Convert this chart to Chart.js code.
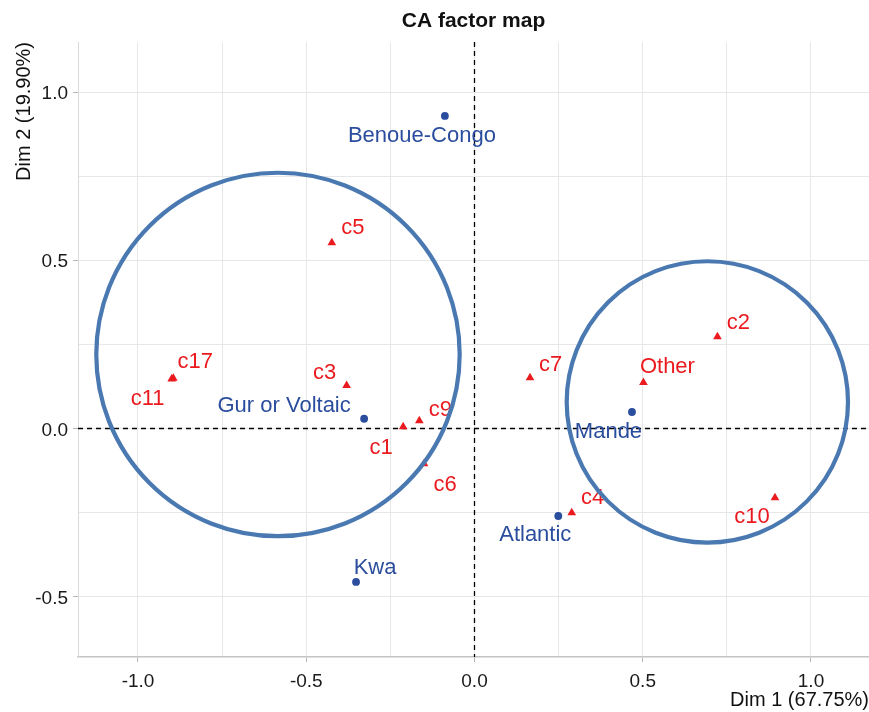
<!DOCTYPE html>
<html>
<head>
<meta charset="utf-8">
<title>CA factor map</title>
<script src="https://cdn.jsdelivr.net/npm/chart.js@4/dist/chart.umd.min.js"></script>
<style>
  html, body { margin: 0; padding: 0; background: #ffffff; }
  canvas { display: block; }
</style>
</head>
<body>
<canvas id="map" width="869" height="712"></canvas>
<script>
// Row categories (language families) on the first two dimensions
const rowNames = ['Benoue-Congo', 'Gur or Voltaic', 'Mande', 'Atlantic', 'Kwa'];
const rowDim1  = [-0.088, -0.328, 0.468, 0.249, -0.352];
const rowDim2  = [0.929, 0.029, 0.049, -0.260, -0.456];

// Column categories
const colNames = ['c5', 'c17', 'c11', 'c3', 'c1', 'c9', 'c6', 'c7', 'Other', 'c2', 'c10', 'c4'];
const colDim1  = [-0.424, -0.895, -0.900, -0.380, -0.212, -0.164, -0.150, 0.165, 0.502, 0.722, 0.893, 0.289];
const colDim2  = [0.552, 0.149, 0.147, 0.128, 0.005, 0.023, -0.105, 0.151, 0.137, 0.273, -0.206, -0.250];

// Group circles: centre and radius in axis units
const circleDim1   = [-0.584, 0.692];
const circleDim2   = [0.220, 0.079];
const circleRadius = [0.540, 0.418];

// Labelled tick values (grid lines every 0.25)
const axisTicks = [-1.0, -0.5, 0.0, 0.5, 1.0];

const FONT = '"Liberation Sans", Arial, Helvetica, sans-serif';
const ROW_COLOR = '#2a4d9d';
const COL_COLOR = '#ea1a1f';
const CIRCLE_COLOR = '#4a79b2';

Chart.defaults.font.family = FONT;

const isLabelled = v => axisTicks.some(t => Math.abs(t - v) < 1e-9);
const tickText = v => isLabelled(v) ? Number(v).toFixed(1) : '';

// Text offsets (px) of each point label from its marker
const labelNudge = {
  'Benoue-Congo': [-23, 20], 'Gur or Voltaic': [-80, -13], 'Mande': [-23.5, 20],
  'Atlantic': [-23, 19], 'Kwa': [19, -14],
  c5: [21, -15], c17: [22, -16.5], c11: [-24, 19.5], c3: [-22, -13], c1: [-22, 21],
  c9: [21, -11], c6: [21, 21], c7: [20.5, -12.5], Other: [24, -15], c2: [21, -14],
  c10: [-23, 19], c4: [21, -15]
};

const factorMapLayers = {
  id: 'factorMapLayers',
  beforeDatasetsDraw(chart) {
    const { ctx, chartArea: a, scales: { x, y } } = chart;
    const x0 = x.getPixelForValue(0);
    const y0 = y.getPixelForValue(0);
    ctx.save();
    ctx.strokeStyle = '#000000';
    ctx.lineWidth = 1.3;
    ctx.setLineDash([5, 4]);
    ctx.beginPath();
    ctx.moveTo(a.left, y0); ctx.lineTo(a.right, y0);
    ctx.moveTo(x0, a.top); ctx.lineTo(x0, a.bottom);
    ctx.stroke();
    ctx.restore();
  },
  afterDatasetsDraw(chart) {
    const { ctx, scales: { x, y } } = chart;
    ctx.save();
    // point labels
    ctx.font = '22px ' + FONT;
    ctx.textAlign = 'center';
    ctx.textBaseline = 'middle';
    const groups = [[rowNames, ROW_COLOR], [colNames, COL_COLOR]];
    groups.forEach(([names, color], di) => {
      const meta = chart.getDatasetMeta(di);
      ctx.fillStyle = color;
      meta.data.forEach((pt, j) => {
        const off = labelNudge[names[j]] || [0, -16];
        ctx.fillText(names[j], pt.x + off[0], pt.y + off[1]);
      });
    });
    // group circles
    ctx.strokeStyle = CIRCLE_COLOR;
    ctx.lineWidth = 4.2;
    circleDim1.forEach((cx, i) => {
      const px = x.getPixelForValue(cx);
      const py = y.getPixelForValue(circleDim2[i]);
      const rx = Math.abs(x.getPixelForValue(cx + circleRadius[i]) - px);
      const ry = Math.abs(y.getPixelForValue(circleDim2[i] + circleRadius[i]) - py);
      ctx.beginPath();
      ctx.ellipse(px, py, rx, ry, 0, 0, Math.PI * 2);
      ctx.stroke();
    });
    ctx.restore();
  }
};

const gridOpts = {
  color: '#e7e7e7',
  lineWidth: 1,
  tickLength: 5,
  tickColor: c => (c.tick && isLabelled(c.tick.value)) ? '#b5b5b5' : 'rgba(0,0,0,0)'
};

new Chart(document.getElementById('map'), {
  type: 'scatter',
  data: {
    datasets: [
      {
        label: 'rows',
        data: rowDim1.map((v, i) => ({ x: v, y: rowDim2[i] })),
        pointStyle: 'circle',
        pointRadius: 3.9,
        borderWidth: 0,
        backgroundColor: ROW_COLOR,
        borderColor: ROW_COLOR
      },
      {
        label: 'columns',
        data: colDim1.map((v, i) => ({ x: v, y: colDim2[i] })),
        pointStyle: 'triangle',
        pointRadius: 5,
        borderWidth: 0,
        backgroundColor: COL_COLOR,
        borderColor: COL_COLOR
      }
    ]
  },
  options: {
    responsive: false,
    animation: false,
    devicePixelRatio: 1,
    layout: { padding: 0, autoPadding: false },
    plugins: {
      legend: { display: false },
      tooltip: { enabled: false },
      title: {
        display: true,
        text: 'CA factor map',
        fullSize: false,
        color: '#111111',
        font: { size: 21, weight: 'bold', lineHeight: 1.2 },
        padding: { top: 8.4, bottom: 8.4 }
      }
    },
    scales: {
      x: {
        type: 'linear',
        min: -1.1783,
        max: 1.1724,
        afterFit: s => { s.height = 55; },
        ticks: {
          stepSize: 0.25, includeBounds: false, autoSkip: false, maxRotation: 0,
          padding: 8, color: '#1a1a1a', font: { size: 19 }, callback: tickText
        },
        grid: gridOpts,
        border: { color: '#c4c4c4', width: 1.5 },
        title: {
          display: true, text: 'Dim 1 (67.75%)', align: 'end', color: '#111111',
          font: { size: 20 }, padding: { top: 0, bottom: 0 }
        }
      },
      y: {
        type: 'linear',
        min: -0.6790,
        max: 1.1486,
        afterFit: s => { s.width = 78; },
        ticks: {
          stepSize: 0.25, includeBounds: false, autoSkip: false, labelOffset: 2,
          padding: 5, color: '#1a1a1a', font: { size: 19 }, callback: tickText
        },
        grid: gridOpts,
        border: { color: '#dadada', width: 1 },
        title: {
          display: true, text: 'Dim 2 (19.90%)', align: 'end', color: '#111111',
          font: { size: 20 }, padding: { top: 12, bottom: 0 }
        }
      }
    }
  },
  plugins: [factorMapLayers]
});
</script>
</body>
</html>
